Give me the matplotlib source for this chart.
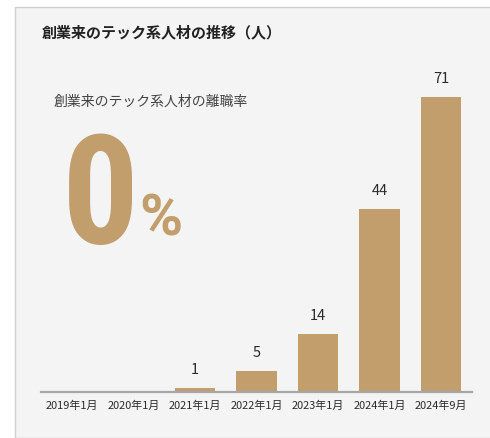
import matplotlib.pyplot as plt
from matplotlib.patches import Rectangle

plt.rcParams['font.family'] = ['Noto Sans CJK JP', 'DejaVu Sans']

# Data
periods = ['2019年1月', '2020年1月', '2021年1月', '2022年1月', '2023年1月', '2024年1月', '2024年9月']
tech_staff = [0, 0, 1, 5, 14, 44, 71]
turnover_rate = 0

gold = '#c19e6c'
W, H = 490, 438

fig = plt.figure(figsize=(W / 100, H / 100), dpi=100)
fig.patch.set_facecolor('white')

# light panel behind everything
fig.patches.append(Rectangle((15 / W, 0), 1, 1 - 7 / H, transform=fig.transFigure,
                             facecolor='#f4f4f4', edgecolor='#cfcfcf', linewidth=1, zorder=-5))

ax = fig.add_axes([41.25 / W, 46 / H, 430.5 / W, 332.4 / H])
ax.patch.set_alpha(0)

x = range(len(periods))
bars = ax.bar(x, tech_staff, width=0.66, color=gold)
for xi, v in zip(x, tech_staff):
    if v > 0:
        ax.text(xi, v + 2.6, str(v), ha='center', va='bottom', fontsize=10.5,
                color='#2b2b2b')

ax.set_xlim(-0.5, len(periods) - 0.5)
ax.set_ylim(0, 80)
ax.set_xticks(list(x))
ax.set_xticklabels(periods, fontsize=7.9, color='#2b2b2b')
ax.tick_params(axis='x', length=0, pad=6)
ax.set_yticks([])
for s in ['top', 'right', 'left']:
    ax.spines[s].set_visible(False)
ax.spines['bottom'].set_color('#a6a6a6')
ax.spines['bottom'].set_linewidth(1.6)

fig.text(42 / W, 1 - 32 / H, '創業来のテック系人材の推移（人）', fontsize=10.8,
         fontweight='bold', color='#222222', ha='left', va='center')
fig.text(53 / W, 1 - 102 / H, '創業来のテック系人材の離職率', fontsize=10,
         color='#444444', ha='left', va='center')

# big turnover figure in a condensed face
fig.text(62 / W, 1 - 244 / H, str(turnover_rate),
         family=['Roboto Condensed', 'Open Sans Condensed', 'DejaVu Sans'],
         fontweight='bold', fontsize=110, color=gold, ha='left', va='baseline')
fig.text(139 / W, 1 - 235 / H, '%', family='Roboto', fontweight='bold',
         fontsize=42, color=gold, ha='left', va='baseline')

fig.savefig('out.png', dpi=100)
